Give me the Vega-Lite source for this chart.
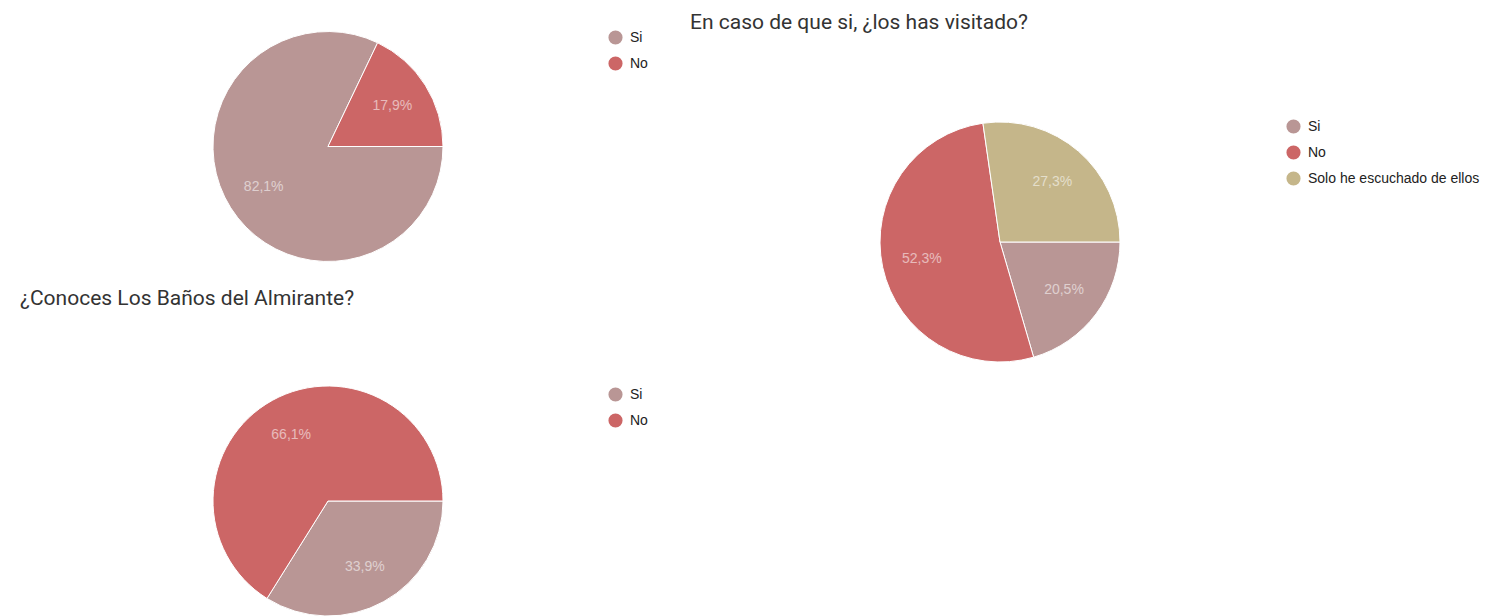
{
  "$schema": "https://vega.github.io/schema/vega-lite/v6.json",
  "padding": 0,
  "background": "white",
  "config": {
    "view": {"stroke": null},
    "locale": {"number": {"decimal": ",", "thousands": ".", "grouping": [3], "currency": ["", " €"]}},
    "title": {"font": "Roboto", "fontSize": 21, "fontWeight": "normal", "color": "#333333", "anchor": "start", "frame": "group", "baseline": "alphabetic"},
    "legend": {"labelFont": "Liberation Sans", "labelFontSize": 14, "labelColor": "#222222", "labelLimit": 400, "symbolType": "circle", "symbolSize": 200, "symbolStrokeWidth": 0, "rowPadding": 11, "labelOffset": 7, "padding": 0, "title": null}
  },
  "resolve": {"scale": {"color": "independent"}, "legend": {"color": "independent"}},
  "spacing": 34,
  "bounds": "full",
  "hconcat": [
    {
      "spacing": 34,
      "bounds": "flush",
      "resolve": {"scale": {"color": "independent"}, "legend": {"color": "independent"}},
      "vconcat": [
        {
          "width": 656,
          "height": 293,
          "data": {"values": [
            {"answer": "Si", "share": 0.821, "o": 1},
            {"answer": "No", "share": 0.179, "o": 2}
          ]},
          "encoding": {
            "theta": {"field": "share", "type": "quantitative", "stack": true, "scale": {"range": [1.5707963, 7.8539816]}},
            "order": {"field": "o", "type": "quantitative"},
            "color": {"field": "answer", "type": "nominal", "scale": {"domain": ["Si", "No"], "range": ["#b99695", "#cc6666"]}, "legend": {"orient": "none", "legendX": 608, "legendY": 30}}
          },
          "layer": [
            {"mark": {"type": "arc", "radius": 115, "stroke": "white", "strokeWidth": 1}},
            {"mark": {"type": "text", "radius": 76, "font": "Liberation Sans", "fontSize": 14, "fill": "white", "opacity": 0.55}, "encoding": {"text": {"field": "share", "type": "quantitative", "format": ".1%"}, "color": {"value": "white"}}}
          ]
        },
        {
          "width": 656,
          "height": 348,
          "title": {"text": "¿Conoces Los Baños del Almirante?", "dx": 20, "offset": 18},
          "data": {"values": [
            {"answer": "Si", "share": 0.339, "o": 1},
            {"answer": "No", "share": 0.661, "o": 2}
          ]},
          "encoding": {
            "theta": {"field": "share", "type": "quantitative", "stack": true, "scale": {"range": [1.5707963, 7.8539816]}},
            "order": {"field": "o", "type": "quantitative"},
            "color": {"field": "answer", "type": "nominal", "scale": {"domain": ["Si", "No"], "range": ["#b99695", "#cc6666"]}, "legend": {"orient": "none", "legendX": 608, "legendY": 60}}
          },
          "layer": [
            {"mark": {"type": "arc", "radius": 115, "stroke": "white", "strokeWidth": 1}},
            {"mark": {"type": "text", "radius": 76, "font": "Liberation Sans", "fontSize": 14, "fill": "white", "opacity": 0.55}, "encoding": {"text": {"field": "share", "type": "quantitative", "format": ".1%"}, "color": {"value": "white"}}}
          ]
        }
      ]
    },
    {
      "width": 620,
      "height": 484,
      "title": {"text": "En caso de que si, ¿los has visitado?", "offset": -33},
      "data": {"values": [
        {"answer": "Si", "share": 0.205, "o": 1},
        {"answer": "No", "share": 0.523, "o": 2},
        {"answer": "Solo he escuchado de ellos", "share": 0.273, "o": 3}
      ]},
      "encoding": {
        "theta": {"field": "share", "type": "quantitative", "stack": true, "scale": {"range": [1.5707963, 7.8539816]}},
        "order": {"field": "o", "type": "quantitative"},
        "color": {"field": "answer", "type": "nominal", "scale": {"domain": ["Si", "No", "Solo he escuchado de ellos"], "range": ["#b99695", "#cc6666", "#c5b68a"]}, "legend": {"orient": "none", "legendX": 596, "legendY": 119}}
      },
      "layer": [
        {"mark": {"type": "arc", "radius": 120, "stroke": "white", "strokeWidth": 1}},
        {"mark": {"type": "text", "radius": 80, "font": "Liberation Sans", "fontSize": 14, "fill": "white", "opacity": 0.55}, "encoding": {"text": {"field": "share", "type": "quantitative", "format": ".1%"}, "color": {"value": "white"}}}
      ]
    }
  ]
}
